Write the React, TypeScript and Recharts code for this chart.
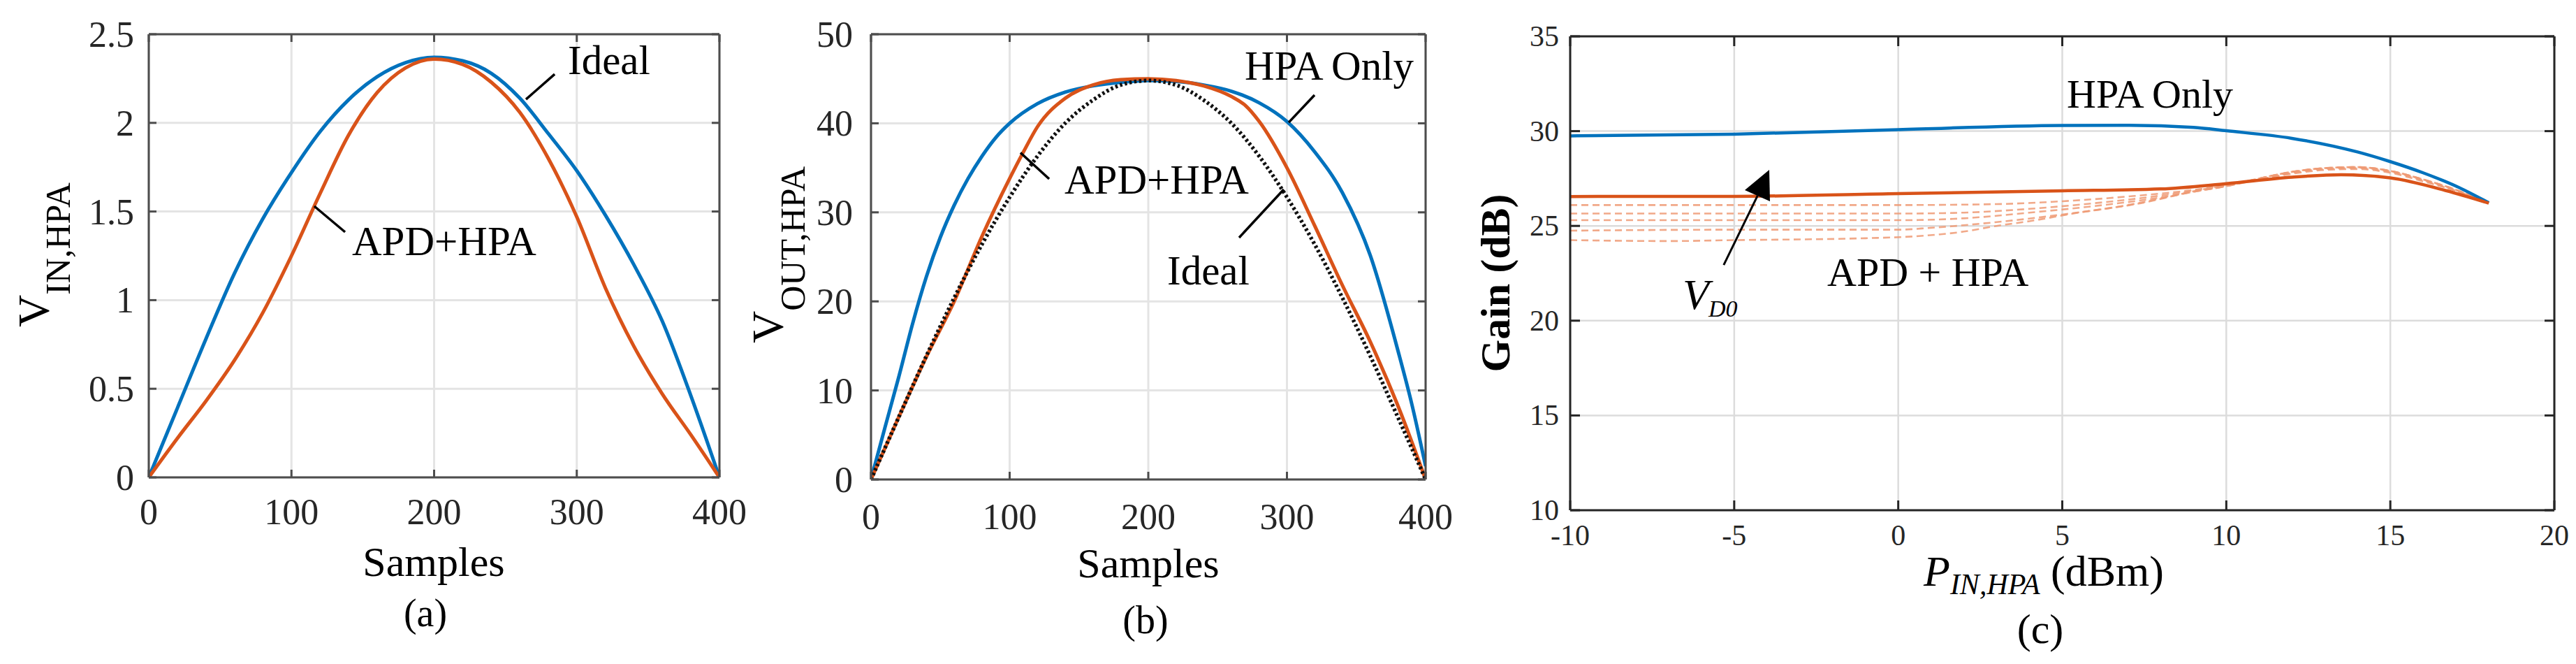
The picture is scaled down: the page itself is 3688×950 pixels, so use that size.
import React from 'react';
import { LineChart, Line, XAxis, YAxis, CartesianGrid, ReferenceLine } from 'recharts';

const SERIF = '"Liberation Serif", "Times New Roman", Times, serif';
const BLUE = '#0072BD';
const ORANGE = '#D95319';
const DASHC = '#EE9A74';

// ---------------- (a) ----------------
const aXTicks = [0, 100, 200, 300, 400];
const aYTicks = [0, 0.5, 1, 1.5, 2, 2.5];
const aIdealX = [0, 20, 40, 60, 80, 100, 120, 140, 160, 180, 200, 220, 240, 260, 280, 300, 320, 340, 360, 380, 400];
const aIdealY = [0, 0.39, 0.78, 1.15, 1.46, 1.72, 1.95, 2.13, 2.26, 2.34, 2.37, 2.35, 2.28, 2.14, 1.94, 1.73, 1.48, 1.2, 0.88, 0.46, 0];
const aApdX = [0, 20, 40, 60, 80, 100, 120, 140, 160, 180, 200, 220, 240, 260, 280, 300, 320, 340, 360, 380, 400];
const aApdY = [0, 0.22, 0.43, 0.66, 0.93, 1.25, 1.6, 1.93, 2.17, 2.31, 2.36, 2.33, 2.23, 2.06, 1.8, 1.47, 1.07, 0.74, 0.47, 0.24, 0];

// ---------------- (b) ----------------
const bXTicks = [0, 100, 200, 300, 400];
const bYTicks = [0, 10, 20, 30, 40, 50];
const bHpaX = [0, 10, 20, 30, 40, 50, 60, 70, 80, 90, 100, 120, 140, 160, 180, 200, 220, 240, 260, 280, 300, 320, 340, 360, 380, 390, 400];
const bHpaY = [0, 5.8, 11.5, 17.5, 22.8, 27.2, 30.8, 33.8, 36.3, 38.4, 40.0, 42.2, 43.5, 44.2, 44.6, 44.8, 44.7, 44.3, 43.6, 42.3, 40.2, 36.8, 32.2, 25.2, 14.5, 8.5, 1.5];
const bApdX = [0, 20, 40, 60, 80, 100, 110, 120, 140, 160, 180, 200, 220, 240, 260, 270, 280, 300, 320, 340, 360, 380, 400];
const bApdY = [0, 7.0, 13.8, 20.0, 27.3, 33.8, 36.8, 39.6, 42.8, 44.3, 44.9, 45.0, 44.8, 44.2, 43.0, 42.0, 40.2, 35.0, 28.5, 21.8, 15.5, 8.3, 0];
const bIdealX = [0, 20, 40, 60, 80, 100, 120, 140, 160, 180, 200, 220, 240, 260, 280, 300, 320, 340, 360, 380, 400];
const bIdealY = [0, 7.0, 13.9, 20.4, 26.4, 31.7, 36.3, 40.0, 42.6, 44.3, 44.8, 44.3, 42.6, 40.0, 36.3, 31.7, 26.4, 20.4, 13.9, 7.0, 0];

// ---------------- (c) ----------------
const cXTicks = [-10, -5, 0, 5, 10, 15, 20];
const cYTicks = [10, 15, 20, 25, 30, 35];
const cHpaX = [-10, -5, 0, 5, 7, 9, 10, 12, 14, 15, 16, 17, 18];
const cHpaY = [29.75, 29.84, 30.08, 30.3, 30.31, 30.2, 30.02, 29.62, 28.9, 28.39, 27.8, 27.1, 26.22];
const cApdX = [-10, -5, 0, 5, 8, 10, 12, 13.5, 15, 16.7, 18];
const cApdY = [26.55, 26.56, 26.7, 26.85, 26.95, 27.23, 27.57, 27.7, 27.53, 26.86, 26.2];
const cD1X = [-10, 0, 3, 5, 7, 9, 10, 11, 12, 13, 14, 15, 16, 17, 18];
const cD1Y = [26.1, 26.1, 26.15, 26.3, 26.55, 26.9, 27.15, 27.45, 27.75, 27.95, 28.0, 27.8, 27.35, 26.85, 26.2];
const cD2X = [-10, 0, 2, 4, 6, 8, 9, 10, 11, 12, 13, 14, 15, 16, 17, 18];
const cD2Y = [25.65, 25.65, 25.7, 25.9, 26.2, 26.6, 26.85, 27.1, 27.45, 27.8, 28.0, 28.05, 27.85, 27.4, 26.85, 26.2];
const cD3X = [-10, 0, 2, 4, 6, 8, 9, 10, 11, 12, 13, 14, 15, 16, 17, 18];
const cD3Y = [25.3, 25.3, 25.4, 25.7, 26.05, 26.5, 26.8, 27.1, 27.5, 27.85, 28.05, 28.1, 27.9, 27.45, 26.9, 26.2];
const cD4X = [-10, -5, 0, 1, 3, 5, 7, 8, 9, 10, 11, 12, 13, 14, 15, 16, 17, 18];
const cD4Y = [24.75, 24.8, 24.8, 24.9, 25.2, 25.6, 26.1, 26.45, 26.8, 27.1, 27.5, 27.85, 28.05, 28.1, 27.9, 27.45, 26.9, 26.2];
const cD5X = [-10, -7, -5, -1, 0.5, 2, 3, 4, 5.5, 7.4, 9.2, 10, 11, 12, 13, 14, 15, 16, 17, 18];
const cD5Y = [24.25, 24.2, 24.25, 24.35, 24.45, 24.7, 25.0, 25.25, 25.7, 26.2, 26.9, 27.15, 27.5, 27.85, 28.05, 28.1, 27.9, 27.45, 26.9, 26.2];

const zip = (xs: number[], ys: number[]) => xs.map((x, i) => ({ x, y: ys[i] }));

type Cfg = {
  L: number; R: number; T: number; B: number;
  tickLen: number; axis: string; axisW: number;
  grid: string; gridW: number;
  fs: number; xLabDy: number; yLabGap: number; yLabDy: number;
};

const A: Cfg = { L: 213, R: 1030, T: 49, B: 683, tickLen: 11, axis: '#4d4d4d', axisW: 3, grid: '#e4e4e4', gridW: 3, fs: 52, xLabDy: 67, yLabGap: 21, yLabDy: 18 };
const Bc: Cfg = { L: 1247, R: 2041, T: 49, B: 686, tickLen: 11, axis: '#4d4d4d', axisW: 3, grid: '#e4e4e4', gridW: 3, fs: 52, xLabDy: 71, yLabGap: 26, yLabDy: 18 };
const C: Cfg = { L: 2248, R: 3657, T: 52, B: 730, tickLen: 14, axis: '#262626', axisW: 3, grid: '#dcdcdc', gridW: 2.5, fs: 42, xLabDy: 50, yLabGap: 16, yLabDy: 14 };

const YW = 100;
const XH = 100;
const margin = (c: Cfg) => ({ left: c.L - YW, right: 3688 - c.R, top: c.T, bottom: 950 - c.B - XH });

function XTick(props: any) {
  const { x, payload, cfg } = props;
  const c: Cfg = cfg;
  return (
    <g>
      <line x1={x} x2={x} y1={c.B} y2={c.B - c.tickLen} stroke={c.axis} strokeWidth={c.axisW} />
      <line x1={x} x2={x} y1={c.T} y2={c.T + c.tickLen} stroke={c.axis} strokeWidth={c.axisW} />
      <text x={x} y={c.B + c.xLabDy} textAnchor="middle" fontFamily={SERIF} fontSize={c.fs} fill="#262626">
        {String(payload.value)}
      </text>
    </g>
  );
}

function YTick(props: any) {
  const { y, payload, cfg } = props;
  const c: Cfg = cfg;
  return (
    <g>
      <line x1={c.L} x2={c.L + c.tickLen} y1={y} y2={y} stroke={c.axis} strokeWidth={c.axisW} />
      <line x1={c.R} x2={c.R - c.tickLen} y1={y} y2={y} stroke={c.axis} strokeWidth={c.axisW} />
      <text x={c.L - c.yLabGap} y={y + c.yLabDy} textAnchor="end" fontFamily={SERIF} fontSize={c.fs} fill="#262626">
        {String(payload.value)}
      </text>
    </g>
  );
}

const layer: React.CSSProperties = { position: 'absolute', left: 0, top: 0 };

export default function App() {
  return (
    <div style={{ position: 'absolute', left: 0, top: 0, width: 3688, height: 950, background: '#ffffff', overflow: 'hidden' }}>
      {/* ---------- (a) ---------- */}
      <div style={layer}>
        <LineChart width={3688} height={950} margin={margin(A)}>
          <CartesianGrid stroke={A.grid} strokeWidth={A.gridW} />
          <XAxis dataKey="x" type="number" domain={[0, 400]} ticks={aXTicks} interval={0} height={XH}
            axisLine={{ stroke: A.axis, strokeWidth: A.axisW }} tickLine={false}
            tick={(p: any) => <XTick {...p} cfg={A} />} allowDataOverflow />
          <YAxis type="number" domain={[0, 2.5]} ticks={aYTicks} interval={0} width={YW}
            axisLine={{ stroke: A.axis, strokeWidth: A.axisW }} tickLine={false}
            tick={(p: any) => <YTick {...p} cfg={A} />} allowDataOverflow />
          <Line data={zip(aIdealX, aIdealY)} dataKey="y" type="monotone" stroke={BLUE} strokeWidth={5} dot={false} isAnimationActive={false} />
          <Line data={zip(aApdX, aApdY)} dataKey="y" type="monotone" stroke={ORANGE} strokeWidth={5} dot={false} isAnimationActive={false} />
          <ReferenceLine y={2.5} stroke={A.axis} strokeWidth={A.axisW} />
          <ReferenceLine x={400} stroke={A.axis} strokeWidth={A.axisW} />
          <ReferenceLine segment={[{ x: 284.5, y: 2.275 }, { x: 264.4, y: 2.133 }]} stroke="#000" strokeWidth={3.5} />
          <ReferenceLine segment={[{ x: 137.6, y: 1.384 }, { x: 116, y: 1.53 }]} stroke="#000" strokeWidth={3.5} />
        </LineChart>
      </div>

      {/* ---------- (b) ---------- */}
      <div style={layer}>
        <LineChart width={3688} height={950} margin={margin(Bc)}>
          <CartesianGrid stroke={Bc.grid} strokeWidth={Bc.gridW} />
          <XAxis dataKey="x" type="number" domain={[0, 400]} ticks={bXTicks} interval={0} height={XH}
            axisLine={{ stroke: Bc.axis, strokeWidth: Bc.axisW }} tickLine={false}
            tick={(p: any) => <XTick {...p} cfg={Bc} />} allowDataOverflow />
          <YAxis type="number" domain={[0, 50]} ticks={bYTicks} interval={0} width={YW}
            axisLine={{ stroke: Bc.axis, strokeWidth: Bc.axisW }} tickLine={false}
            tick={(p: any) => <YTick {...p} cfg={Bc} />} allowDataOverflow />
          <Line data={zip(bHpaX, bHpaY)} dataKey="y" type="monotone" stroke={BLUE} strokeWidth={5} dot={false} isAnimationActive={false} />
          <Line data={zip(bApdX, bApdY)} dataKey="y" type="monotone" stroke={ORANGE} strokeWidth={5} dot={false} isAnimationActive={false} />
          <Line data={zip(bIdealX, bIdealY)} dataKey="y" type="monotone" stroke="#111" strokeWidth={5.5} strokeDasharray="3.5 3.5" dot={false} isAnimationActive={false} />
          <ReferenceLine y={50} stroke={Bc.axis} strokeWidth={Bc.axisW} />
          <ReferenceLine x={400} stroke={Bc.axis} strokeWidth={Bc.axisW} />
          <ReferenceLine segment={[{ x: 319.9, y: 43.17 }, { x: 301.3, y: 40.1 }]} stroke="#000" strokeWidth={3.5} />
          <ReferenceLine segment={[{ x: 128.5, y: 33.75 }, { x: 107.8, y: 36.7 }]} stroke="#000" strokeWidth={3.5} />
          <ReferenceLine segment={[{ x: 265.5, y: 27.16 }, { x: 297.7, y: 32.57 }]} stroke="#000" strokeWidth={3.5} />
        </LineChart>
      </div>

      {/* ---------- (c) ---------- */}
      <div style={layer}>
        <LineChart width={3688} height={950} margin={margin(C)}>
          <CartesianGrid stroke={C.grid} strokeWidth={C.gridW} />
          <XAxis dataKey="x" type="number" domain={[-10, 20]} ticks={cXTicks} interval={0} height={XH}
            axisLine={{ stroke: C.axis, strokeWidth: C.axisW }} tickLine={false}
            tick={(p: any) => <XTick {...p} cfg={C} />} allowDataOverflow />
          <YAxis type="number" domain={[10, 35]} ticks={cYTicks} interval={0} width={YW}
            axisLine={{ stroke: C.axis, strokeWidth: C.axisW }} tickLine={false}
            tick={(p: any) => <YTick {...p} cfg={C} />} allowDataOverflow />
          {[zip(cD1X, cD1Y), zip(cD2X, cD2Y), zip(cD3X, cD3Y), zip(cD4X, cD4Y), zip(cD5X, cD5Y)].map((d, i) => (
            <Line key={'d' + i} data={d} dataKey="y" type="monotone" stroke={DASHC} strokeOpacity={0.85} strokeWidth={2.6} strokeDasharray="10 6" dot={false} isAnimationActive={false} />
          ))}
          <Line data={zip(cHpaX, cHpaY)} dataKey="y" type="monotone" stroke={BLUE} strokeWidth={4.5} dot={false} isAnimationActive={false} />
          <Line data={zip(cApdX, cApdY)} dataKey="y" type="monotone" stroke={ORANGE} strokeWidth={4.5} dot={false} isAnimationActive={false} />
          <ReferenceLine y={35} stroke={C.axis} strokeWidth={C.axisW} />
          <ReferenceLine x={20} stroke={C.axis} strokeWidth={C.axisW} />
          <ReferenceLine segment={[{ x: -5.32, y: 22.94 }, { x: -4.29, y: 26.59 }]} stroke="#000" strokeWidth={3} />
        </LineChart>
      </div>

      {/* ---------- text overlay ---------- */}
      <svg width={3688} height={950} style={{ position: 'absolute', left: 0, top: 0, pointerEvents: 'none' }}>
        <g fontFamily={SERIF} fill="#000" style={{ whiteSpace: 'pre' }}>
          {/* (a) */}
          <text x={813} y={106} fontSize={59}>Ideal</text>
          <text x={504} y={365} fontSize={59}>APD+HPA</text>
          <text x={621} y={824} fontSize={60} textAnchor="middle">Samples</text>
          <text x={609} y={896} fontSize={56} textAnchor="middle">(a)</text>
          <text transform="translate(70,468) rotate(-90)" fontSize={64}>
            V<tspan fontSize={50} dy={30}>IN,HPA</tspan>
          </text>

          {/* (b) */}
          <text x={1782} y={114} fontSize={59}>HPA Only</text>
          <text x={1524} y={277} fontSize={59}>APD+HPA</text>
          <text x={1671} y={407} fontSize={59}>Ideal</text>
          <text x={1644} y={826} fontSize={60} textAnchor="middle">Samples</text>
          <text x={1640} y={906} fontSize={56} textAnchor="middle">(b)</text>
          <text transform="translate(1121,491) rotate(-90)" fontSize={64}>
            V<tspan fontSize={50} dy={31}>OUT,HPA</tspan>
          </text>

          {/* (c) */}
          <text x={2959} y={154} fontSize={58}>HPA Only</text>
          <text x={2616} y={409} fontSize={58}>APD + HPA</text>
          <text x={2409} y={442} fontSize={62} fontStyle="italic">V</text>
          <text x={2446} y={453} fontSize={34} fontStyle="italic">D0</text>
          <polygon points="2533,243 2498,272 2534,288" fill="#000" />
          <text transform="translate(2161,405) rotate(-90)" fontSize={60} fontWeight="bold" textAnchor="middle">Gain (dB)</text>
          <text x={2754} y={838} fontSize={62}>
            <tspan fontStyle="italic">P</tspan>
            <tspan fontStyle="italic" fontSize={42} dy={12}>IN,HPA</tspan>
            <tspan dy={-12}> (dBm)</tspan>
          </text>
          <text x={2921} y={920} fontSize={60} textAnchor="middle">(c)</text>
        </g>
      </svg>
    </div>
  );
}
